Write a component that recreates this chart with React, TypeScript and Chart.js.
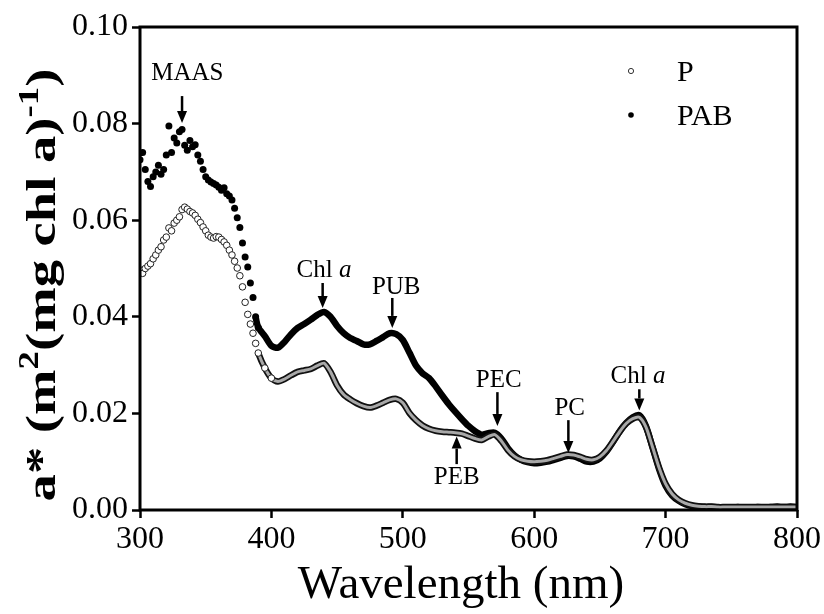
import React, { useEffect, useRef } from "react";
import { Chart, registerables } from "chart.js";

Chart.register(...registerables);

// ---- data (wavelength in nm, a* in m2 (mg chl a)-1) ----
const WAVELENGTH_UV = [
  300, 302, 304, 306, 308, 310, 312, 314, 316, 318,
  320, 322, 324, 326, 328, 330, 332, 334, 336, 338,
  340, 342, 344, 346, 348, 350, 352, 354, 356, 358,
  360, 362, 364, 366, 368, 370, 372, 374, 376, 378,
  380, 382, 384, 386, 388, 390,
];
const PAB_UV = [
  0.0725, 0.0740, 0.0705, 0.0680, 0.0670, 0.0690, 0.0700, 0.0714, 0.0695, 0.0705,
  0.0735, 0.0795, 0.0740, 0.0770, 0.0760, 0.0783, 0.0788, 0.0755, 0.0745, 0.0765,
  0.0752, 0.0756, 0.0735, 0.0722, 0.0705, 0.0690, 0.0683, 0.0679, 0.0676, 0.0673,
  0.0668, 0.0662, 0.0667, 0.0655, 0.0650, 0.0642, 0.0625, 0.0605, 0.0585, 0.0553,
  0.0524, 0.0503, 0.0470, 0.0440, 0.0400, 0.0378,
];
const P_UV = [
  0.0497, 0.0490, 0.0500, 0.0505, 0.0510, 0.0520, 0.0528, 0.0538, 0.0545, 0.0559,
  0.0565, 0.0584, 0.0578, 0.0594, 0.0600, 0.0607, 0.0622, 0.0627, 0.0623, 0.0618,
  0.0615, 0.0610, 0.0602, 0.0595, 0.0586, 0.0578, 0.0569, 0.0565, 0.0563, 0.0566,
  0.0565, 0.0560, 0.0555, 0.0548, 0.0538, 0.0528, 0.0515, 0.0501, 0.0485, 0.0462,
  0.0430, 0.0405, 0.0385, 0.0366, 0.0345, 0.0325,
];

const WAVELENGTH_VIS = [
  395, 400, 405, 410, 415, 420, 425, 430, 435, 440,
  445, 450, 455, 460, 465, 470, 475, 480, 485, 490,
  495, 500, 505, 510, 515, 520, 525, 530, 535, 540,
  545, 550, 555, 560, 565, 570, 575, 580, 585, 590,
  595, 600, 605, 610, 615, 620, 625, 630, 635, 640,
  645, 650, 655, 660, 665, 670, 675, 680, 685, 690,
  695, 700, 705, 710, 715, 720, 725, 730, 735, 740,
  745, 750, 755, 760, 765, 770, 775, 780, 785, 790,
  795, 800,
];
const PAB_VIS = [
  0.0360, 0.0340, 0.0336, 0.0348, 0.0364, 0.0377, 0.0385, 0.0394, 0.0404, 0.0410,
  0.0400, 0.0381, 0.0366, 0.0356, 0.0350, 0.0343, 0.0343, 0.0350, 0.0358, 0.0366,
  0.0364, 0.0352, 0.0326, 0.0299, 0.0283, 0.0273, 0.0256, 0.0237, 0.0219, 0.0203,
  0.0188, 0.0174, 0.0163, 0.0156, 0.0159, 0.0160, 0.0148, 0.0128, 0.0113, 0.0104,
  0.0099, 0.0097, 0.0098, 0.0100, 0.0104, 0.0108, 0.0112, 0.0111, 0.0106, 0.0100,
  0.0100, 0.0107, 0.0121, 0.0141, 0.0163, 0.0180, 0.0192, 0.0196, 0.0174, 0.0130,
  0.0085, 0.0050, 0.0030, 0.0019, 0.0012, 0.0008, 0.0007, 0.0006, 0.0006, 0.0005,
  0.0005, 0.0005, 0.0006, 0.0005, 0.0005, 0.0006, 0.0005, 0.0006, 0.0007, 0.0006,
  0.0007, 0.0006,
];
const P_VIS = [
  0.0294, 0.0273, 0.0266, 0.0271, 0.0279, 0.0286, 0.0289, 0.0292, 0.0299, 0.0304,
  0.0286, 0.0258, 0.0239, 0.0229, 0.0221, 0.0215, 0.0212, 0.0216, 0.0222, 0.0228,
  0.0230, 0.0222, 0.0201, 0.0186, 0.0175, 0.0168, 0.0164, 0.0162, 0.0161, 0.0160,
  0.0158, 0.0153, 0.0148, 0.0145, 0.0152, 0.0156, 0.0143, 0.0124, 0.0111, 0.0104,
  0.0101, 0.0100, 0.0101, 0.0103, 0.0107, 0.0111, 0.0115, 0.0114, 0.0110, 0.0105,
  0.0104, 0.0110, 0.0123, 0.0142, 0.0162, 0.0179, 0.0189, 0.0192, 0.0172, 0.0131,
  0.0088, 0.0054, 0.0033, 0.0021, 0.0014, 0.0010, 0.0008, 0.0007, 0.0007, 0.0006,
  0.0006, 0.0006, 0.0006, 0.0006, 0.0006, 0.0006, 0.0006, 0.0006, 0.0006, 0.0006,
  0.0006, 0.0006,
];

const X_TICKS = [300, 400, 500, 600, 700, 800];
const Y_TICKS = [0, 0.02, 0.04, 0.06, 0.08, 0.1];
const SERIES_NAMES = ["P", "PAB"];

// peak annotations: label, arrow wavelength, label wavelength, label centre value, arrow tail value, arrow tip value
const PEAK_LABELS = ["MAAS", "Chl a", "PUB", "PEC", "PEB", "PC", "Chl a"];
const PEAK_WAVELENGTHS = [332, 439, 492, 572, 541, 626, 680];
const PEAK_LABEL_WAVELENGTHS = [336, 440, 495, 573, 541, 627, 679];
const PEAK_LABEL_VALUES = [0.0903, 0.0497, 0.0460, 0.0269, 0.0068, 0.0211, 0.0277];
const PEAK_ARROW_TAILS = [0.0857, 0.0470, 0.0439, 0.0244, 0.0095, 0.0186, 0.0250];
const PEAK_ARROW_TIPS = [0.0801, 0.0418, 0.0377, 0.0174, 0.0152, 0.0118, 0.0206];

const WAVELENGTH = [...WAVELENGTH_UV, ...WAVELENGTH_VIS];
const P_VALUES = [...P_UV, ...P_VIS];
const PAB_VALUES = [...PAB_UV, ...PAB_VIS];

const SERIF = "'Liberation Serif', 'Times New Roman', serif";

function drawArrow(ctx: CanvasRenderingContext2D, x: number, yTail: number, yTip: number) {
  const dir = yTip > yTail ? 1 : -1;
  const head = 12;
  const half = 5;
  ctx.beginPath();
  ctx.moveTo(x, yTail);
  ctx.lineTo(x, yTip - dir * head);
  ctx.lineWidth = 2.5;
  ctx.strokeStyle = "#000";
  ctx.stroke();
  ctx.beginPath();
  ctx.moveTo(x, yTip);
  ctx.lineTo(x - half, yTip - dir * head);
  ctx.lineTo(x + half, yTip - dir * head);
  ctx.closePath();
  ctx.fillStyle = "#000";
  ctx.fill();
}

function drawLabel(ctx: CanvasRenderingContext2D, label: string, cx: number, cy: number) {
  const size = 25;
  ctx.textBaseline = "middle";
  ctx.fillStyle = "#000";
  if (label.startsWith("Chl ")) {
    const a = "Chl ";
    const b = label.slice(4);
    ctx.font = `${size}px ${SERIF}`;
    const wa = ctx.measureText(a).width;
    ctx.font = `italic ${size}px ${SERIF}`;
    const wb = ctx.measureText(b).width;
    const start = cx - (wa + wb) / 2;
    ctx.textAlign = "left";
    ctx.font = `${size}px ${SERIF}`;
    ctx.fillText(a, start, cy);
    ctx.font = `italic ${size}px ${SERIF}`;
    ctx.fillText(b, start + wa, cy);
  } else {
    ctx.font = `${size}px ${SERIF}`;
    ctx.textAlign = "center";
    ctx.fillText(label, cx, cy);
  }
}

const overlay = {
  id: "overlay",
  afterDraw(chart: any) {
    const { ctx, chartArea: a, scales } = chart;
    const xs = scales.x;
    const ys = scales.y;
    ctx.save();
    // frame
    ctx.strokeStyle = "#000";
    ctx.lineWidth = 3;
    ctx.strokeRect(a.left, a.top, a.right - a.left, a.bottom - a.top);

    // peak annotations
    for (let i = 0; i < PEAK_LABELS.length; i++) {
      const px = xs.getPixelForValue(PEAK_WAVELENGTHS[i]);
      drawArrow(ctx, px, ys.getPixelForValue(PEAK_ARROW_TAILS[i]), ys.getPixelForValue(PEAK_ARROW_TIPS[i]));
      drawLabel(ctx, PEAK_LABELS[i], xs.getPixelForValue(PEAK_LABEL_WAVELENGTHS[i]), ys.getPixelForValue(PEAK_LABEL_VALUES[i]));
    }

    // legend
    const lx = 631;
    const ly = [71, 115];
    ctx.font = `30px ${SERIF}`;
    ctx.textAlign = "left";
    ctx.textBaseline = "middle";
    SERIES_NAMES.forEach((name, i) => {
      ctx.beginPath();
      ctx.arc(lx, ly[i], i === 0 ? 2.6 : 2.8, 0, Math.PI * 2);
      if (i === 0) {
        ctx.fillStyle = "#fff";
        ctx.fill();
        ctx.lineWidth = 1;
        ctx.strokeStyle = "#333";
        ctx.stroke();
      } else {
        ctx.fillStyle = "#000";
        ctx.fill();
      }
      ctx.fillStyle = "#000";
      ctx.fillText(name, 677, ly[i] + 2);
    });

    // x title
    ctx.font = `47px ${SERIF}`;
    ctx.textAlign = "center";
    ctx.textBaseline = "alphabetic";
    ctx.fillText("Wavelength (nm)", 461, 598);

    // y title with superscripts (elongated along the text, as in the original figure)
    const parts = [
      { t: "a* (m", sup: false },
      { t: "2", sup: true },
      { t: "(mg chl a)", sup: false },
      { t: "-1", sup: true },
      { t: ")", sup: false },
    ];
    const base = `bold 43px ${SERIF}`;
    const supF = `bold 29px ${SERIF}`;
    let total = 0;
    parts.forEach((p) => {
      ctx.font = p.sup ? supF : base;
      total += ctx.measureText(p.t).width;
    });
    ctx.translate(55, 285);
    ctx.rotate(-Math.PI / 2);
    ctx.scale(1.27, 1);
    let cx = -total / 2;
    ctx.textAlign = "left";
    ctx.textBaseline = "alphabetic";
    parts.forEach((p) => {
      ctx.font = p.sup ? supF : base;
      ctx.fillText(p.t, cx, p.sup ? -17 : 0);
      cx += ctx.measureText(p.t).width;
    });
    ctx.restore();
  },
};

export default function App() {
  const ref = useRef<HTMLCanvasElement>(null);
  useEffect(() => {
    document.body.style.margin = "0";
    const pts = (vals: number[]) => WAVELENGTH.map((w, i) => ({ x: w, y: vals[i] }));
    const chart = new Chart(ref.current!, {
      type: "line",
      data: {
        datasets: [
          {
            label: "P",
            data: pts(P_VALUES),
            order: 0,
            borderColor: "#a8a8a8",
            borderWidth: 3,
            tension: 0.25,
            pointRadius: (c: any) => (WAVELENGTH[c.dataIndex] <= 400 ? 3.3 : 0),
            pointBackgroundColor: "#fff",
            pointBorderColor: "#222",
            pointBorderWidth: 1,
            segment: {
              borderColor: (c: any) => (WAVELENGTH[c.p0DataIndex] < 390 ? "rgba(0,0,0,0)" : "#a8a8a8"),
            },
          },
          {
            label: "P outline",
            data: pts(P_VALUES),
            order: 1,
            borderColor: "#111",
            borderWidth: 6.5,
            tension: 0.25,
            pointRadius: 0,
            segment: {
              borderColor: (c: any) => (WAVELENGTH[c.p0DataIndex] < 390 ? "rgba(0,0,0,0)" : "#111"),
            },
          },
          {
            label: "PAB",
            data: pts(PAB_VALUES),
            order: 2,
            borderColor: "#000",
            borderWidth: 6.5,
            tension: 0.25,
            pointRadius: (c: any) => (WAVELENGTH[c.dataIndex] <= 390 ? 3.5 : 0),
            pointBackgroundColor: "#000",
            pointBorderColor: "#000",
            pointBorderWidth: 0,
            segment: {
              borderColor: (c: any) => (WAVELENGTH[c.p0DataIndex] < 388 ? "rgba(0,0,0,0)" : "#000"),
            },
          },
        ],
      },
      options: {
        responsive: false,
        animation: false,
        events: [],
        layout: { padding: { top: 27, right: 27, left: 0, bottom: 0 } },
        plugins: { legend: { display: false }, tooltip: { enabled: false } },
        scales: {
          x: {
            type: "linear",
            min: 300,
            max: 800,
            afterBuildTicks: (s: any) => {
              s.ticks = X_TICKS.map((v) => ({ value: v }));
            },
            afterFit: (s: any) => {
              s.height = 104;
            },
            border: { display: false },
            grid: { drawOnChartArea: false, drawTicks: true, tickLength: 8, tickWidth: 2.5, tickColor: "#000" },
            ticks: { color: "#000", font: { family: SERIF, size: 32 }, padding: 2, maxRotation: 0 },
          },
          y: {
            type: "linear",
            min: 0,
            max: 0.1,
            afterBuildTicks: (s: any) => {
              s.ticks = Y_TICKS.map((v) => ({ value: v }));
            },
            afterFit: (s: any) => {
              s.width = 140;
            },
            border: { display: false },
            grid: { drawOnChartArea: false, drawTicks: true, tickLength: 8, tickWidth: 2.5, tickColor: "#000" },
            ticks: {
              color: "#000",
              font: { family: SERIF, size: 32 },
              padding: 4,
              callback: (v: any) => Number(v).toFixed(2),
            },
          },
        },
      },
      plugins: [overlay],
    } as any);
    return () => chart.destroy();
  }, []);
  return (
    <div style={{ width: 824, height: 614 }}>
      <canvas ref={ref} width={824} height={614} style={{ display: "block" }} />
    </div>
  );
}
